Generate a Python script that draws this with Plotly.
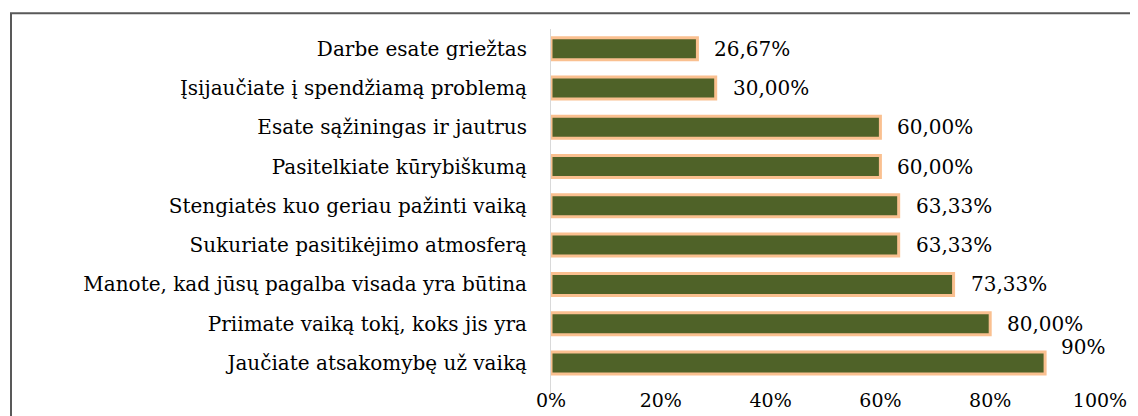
import plotly.graph_objects as go

categories = [
    "Darbe esate griežtas",
    "Įsijaučiate į spendžiamą problemą",
    "Esate sąžiningas ir jautrus",
    "Pasitelkiate kūrybiškumą",
    "Stengiatės kuo geriau pažinti vaiką",
    "Sukuriate pasitikėjimo atmosferą",
    "Manote, kad jūsų pagalba visada yra būtina",
    "Priimate vaiką tokį, koks jis yra",
    "Jaučiate atsakomybę už vaiką",
]
values = [26.67, 30.00, 60.00, 60.00, 63.33, 63.33, 73.33, 80.00, 90.00]
labels = ["26,67%", "30,00%", "60,00%", "60,00%", "63,33%", "63,33%", "73,33%", "80,00%", "90%"]
tick_vals = [0, 20, 40, 60, 80, 100]
tick_text = ["0%", "20%", "40%", "60%", "80%", "100%"]

FONT = "DejaVu Serif"
FS = 20

fig = go.Figure()
fig.add_trace(go.Bar(
    x=values, y=categories, orientation="h",
    marker=dict(color="#4F6228", line=dict(color="#FAC090", width=3)),
    width=0.56, hoverinfo="skip",
))

for i, (v, c, t) in enumerate(zip(values, categories, labels)):
    last = i == len(values) - 1
    fig.add_annotation(
        x=v, y=c, text=t, showarrow=False, xanchor="left",
        xshift=15 if not last else 14, yshift=0 if not last else 16,
        font=dict(family=FONT, size=FS, color="#000000"),
    )

fig.add_shape(type="rect", xref="paper", yref="paper",
              x0=-0.9836, x1=1.3, y0=-0.3, y1=1.0433,
              line=dict(color="#595959", width=2), fillcolor="rgba(0,0,0,0)")

fig.update_layout(
    width=1130, height=408,
    margin=dict(l=543, r=38, t=21, b=23),
    paper_bgcolor="white", plot_bgcolor="white",
    showlegend=False,
    font=dict(family=FONT, size=FS, color="#000000"),
    xaxis=dict(range=[0, 100], tickvals=tick_vals, ticktext=tick_text,
               showgrid=False, zeroline=False, showline=False, automargin=False,
               ticks="", ticklabelstandoff=-6, tickfont=dict(family=FONT, size=19)),
    yaxis=dict(autorange="reversed", showgrid=False, zeroline=False,
               showline=True, linecolor="#D9D9D9", linewidth=1, automargin=False,
               ticks="", ticklabelstandoff=19, tickfont=dict(family=FONT, size=FS)),
)

fig.write_html("out.html")
